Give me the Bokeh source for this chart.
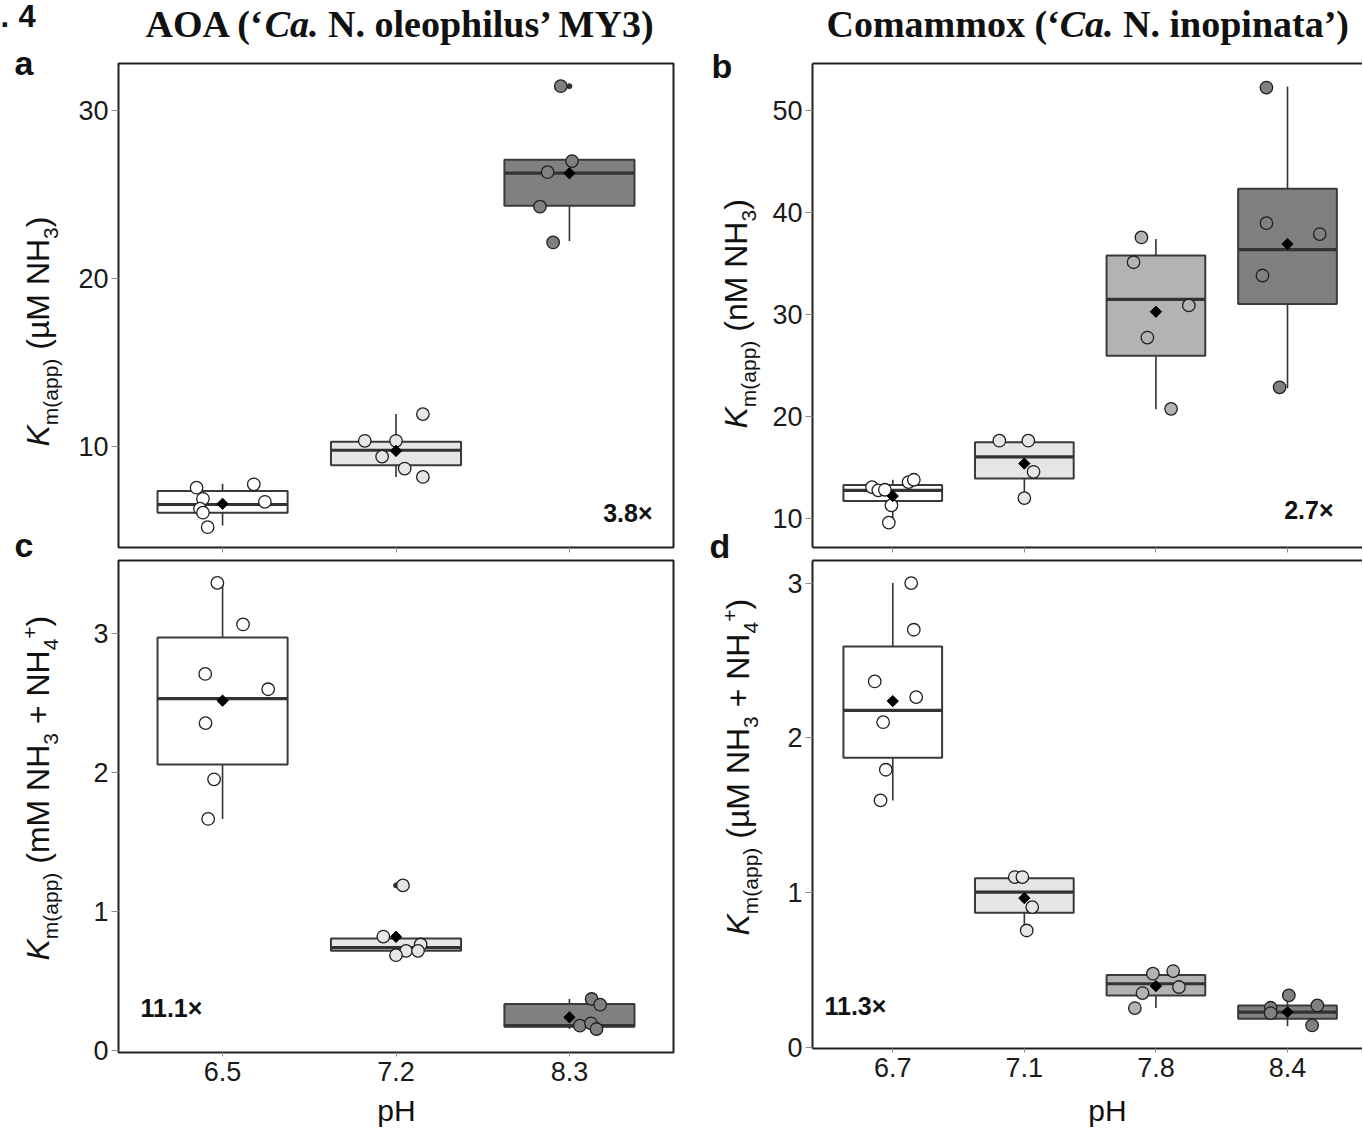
import math
from bokeh.plotting import figure
from bokeh.models import FixedTicker, Label, LinearAxis, Range1d, ColumnDataSource
from bokeh.layouts import column, row
from bokeh.embed import file_html
from bokeh.resources import INLINE

# ---------------- data ----------------
# Panel a: AOA Km(app) (uM NH3)
a_ph = ["6.5", "7.2", "8.3"]
a_q1 = [6.06, 8.88, 24.34]
a_med = [6.55, 9.78, 26.27]
a_q3 = [7.35, 10.28, 27.07]
a_wlo = [5.30, 8.19, 22.23]
a_whi = [7.79, 11.93, 26.99]
a_mean = [6.59, 9.74, 26.27]
a_pt_grp = [0, 0, 0, 0, 0, 0, 0, 1, 1, 1, 1, 1, 1, 2, 2, 2, 2, 2]
a_pt_jit = [-0.15, -0.113, -0.13, -0.113, -0.086, 0.18, 0.244,
            -0.18, 0.0, -0.08, 0.05, 0.155, 0.155,
            -0.05, 0.015, -0.126, -0.17, -0.094]
a_pt_val = [7.55, 6.89, 6.30, 6.06, 5.20, 7.75, 6.71,
            10.34, 10.34, 9.40, 8.69, 8.19, 11.93,
            31.45, 26.99, 26.33, 24.28, 22.15]
a_out_grp = [2]
a_out_val = [31.45]

# Panel b: Comammox Km(app) (nM NH3)
b_ph = ["6.7", "7.1", "7.8", "8.4"]
b_q1 = [11.72, 13.93, 25.95, 31.02]
b_med = [12.76, 16.04, 31.48, 36.35]
b_q3 = [13.28, 17.47, 35.77, 42.33]
b_wlo = [9.60, 12.0, 20.72, 22.77]
b_whi = [13.80, 17.63, 37.39, 52.34]
b_mean = [12.20, 15.39, 30.27, 36.90]
b_pt_grp = [0, 0, 0, 0, 0, 0, 0, 1, 1, 1, 1, 2, 2, 2, 2, 2, 3, 3, 3, 3, 3]
b_pt_jit = [-0.158, -0.11, -0.06, -0.01, -0.03, 0.12, 0.16,
            -0.19, 0.03, 0.07, 0.0,
            -0.11, -0.17, 0.25, -0.065, 0.115,
            -0.16, -0.16, 0.245, -0.19, -0.06]
b_pt_val = [13.08, 12.76, 12.82, 11.29, 9.60, 13.57, 13.80,
            17.63, 17.63, 14.58, 12.0,
            37.55, 35.12, 30.89, 27.74, 20.75,
            52.24, 38.95, 37.88, 33.82, 22.86]
b_out_grp = []
b_out_val = []

# Panel c: AOA Km(app) (mM NH3 + NH4+)
c_ph = ["6.5", "7.2", "8.3"]
c_q1 = [2.058, 0.717, 0.172]
c_med = [2.532, 0.741, 0.179]
c_q3 = [2.972, 0.806, 0.335]
c_wlo = [1.666, 0.686, 0.155]
c_whi = [3.364, 0.820, 0.371]
c_mean = [2.517, 0.818, 0.239]
c_pt_grp = [0, 0, 0, 0, 0, 0, 0, 1, 1, 1, 1, 1, 1, 2, 2, 2, 2, 2]
c_pt_jit = [-0.03, 0.118, -0.10, 0.263, -0.098, -0.049, -0.083,
            0.04, -0.073, 0.142, 0.058, 0.127, 0.0,
            0.128, 0.177, 0.06, 0.124, 0.156]
c_pt_val = [3.364, 3.065, 2.709, 2.599, 2.355, 1.951, 1.666,
            1.188, 0.820, 0.763, 0.717, 0.717, 0.686,
            0.371, 0.330, 0.179, 0.196, 0.155]
c_out_grp = [1]
c_out_val = [1.188]

# Panel d: Comammox Km(app) (uM NH3 + NH4+)
d_ph = ["6.7", "7.1", "7.8", "8.4"]
d_q1 = [1.872, 0.871, 0.338, 0.187]
d_med = [2.178, 1.005, 0.413, 0.230]
d_q3 = [2.591, 1.095, 0.469, 0.273]
d_wlo = [1.597, 0.757, 0.256, 0.138]
d_whi = [3.000, 1.102, 0.495, 0.338]
d_mean = [2.238, 0.966, 0.398, 0.230]
d_pt_grp = [0, 0, 0, 0, 0, 0, 0, 1, 1, 1, 1, 2, 2, 2, 2, 2, 3, 3, 3, 3, 3]
d_pt_jit = [0.14, 0.16, -0.137, 0.178, -0.073, -0.053, -0.093,
            -0.073, -0.015, 0.06, 0.018,
            -0.023, 0.131, 0.175, -0.102, -0.16,
            0.01, -0.128, -0.128, 0.227, 0.187]
d_pt_val = [3.0, 2.699, 2.365, 2.264, 2.102, 1.795, 1.597,
            1.102, 1.102, 0.908, 0.757,
            0.478, 0.495, 0.392, 0.353, 0.256,
            0.338, 0.258, 0.224, 0.273, 0.144]
d_out_grp = []
d_out_val = []

fold_a, fold_b, fold_c, fold_d = "3.8×", "2.7×", "11.1×", "11.3×"
title_aoa = ["AOA (‘", "Ca.", " N. oleophilus’ MY3)"]
title_com = ["Comammox (‘", "Ca.", " N. inopinata’)"]

colors3 = ["#ffffff", "#e6e6e6", "#808080"]
colors4 = ["#ffffff", "#e6e6e6", "#b3b3b3", "#808080"]

# ---------------- styling helpers ----------------
SANS = "Liberation Sans"
SERIF = "Liberation Serif"
FRAME = "#231f20"
BASE_K = 0.38   # renderer's baseline offset, in em
ARIAL = {'K': .667, 'm': .833, '(': .333, 'a': .556, 'p': .556, ')': .333, ' ': .278,
         'µ': .576, 'M': .833, 'N': .722, 'H': .722, '3': .556, '4': .556, '+': .584, 'n': .556}
TIMES_B = {'A': .722, 'O': .778, ' ': .25, '(': .333, '‘': .333, '’': .333, 'N': .722, '.': .25,
           'o': .5, 'l': .278, 'e': .444, 'p': .556, 'h': .556, 'i': .278, 'u': .556, 's': .389,
           'M': .944, 'Y': .722, '3': .5, ')': .333, 'C': .722, 'm': .833, 'a': .5, 'x': .5,
           'n': .556, 't': .333}
TIMES_BI = {'C': .667, 'a': .5, '.': .25, ' ': .25}


def tw(s, size, table):
    return sum(table.get(ch, 0.5) for ch in s) * size


def put(p, frame, px, py, text, size, font, style="normal", vertical=False, align="left",
        color="#111111"):
    """px, py: page position of the text's baseline anchor."""
    fl, fb = frame
    off = BASE_K * size
    if vertical:
        ax, ay, ang = px - off, py, math.pi / 2
    else:
        ax, ay, ang = px, py - off, 0.0
    p.add_layout(Label(x=ax - fl, y=fb - ay, x_units="screen", y_units="screen", text=text,
                       text_font=font, text_font_size=f"{size}px", text_font_style=style,
                       text_color=color, angle=ang, text_align=align,
                       text_baseline="alphabetic"))


def ylabel(p, frame, base_x, start_y, pieces):
    y = start_y
    for text, size, shift, style in pieces:
        lead = len(text) - len(text.lstrip(" "))
        put(p, frame, base_x + shift, y - lead * ARIAL[" "] * size, text.strip(), size, SANS,
            style=style, vertical=True)
        y -= tw(text, size, ARIAL)


def title(p, frame, start_x, base_y, parts, size):
    x = start_x
    for i, t in enumerate(parts):
        style = "bold italic" if i == 1 else "bold"
        table = TIMES_BI if i == 1 else TIMES_B
        lead = len(t) - len(t.lstrip(" "))
        put(p, frame, x + lead * table[" "] * size, base_y, t.strip(), size, SERIF,
            style=style, color="#111111")
        x += tw(t, size, table)


def text_fig(W, H):
    p = figure(width=W, height=H, x_range=Range1d(0, W), y_range=Range1d(0, H),
               output_backend="svg", toolbar_location=None, x_axis_type=None,
               y_axis_type=None, min_border=0, min_border_left=0, min_border_right=0,
               min_border_top=0, min_border_bottom=0)
    p.outline_line_color = None
    p.background_fill_color = "white"
    p.border_fill_color = "white"
    return p


def make_panel(W, H, borders, xr, yr, yticks, labels, colors, q1, med, q3, wlo, whi, mean,
               pg, pj, pv, og, ov, show_x, boxed):
    p = figure(width=W, height=H, x_range=Range1d(*xr), y_range=Range1d(*yr),
               output_backend="svg", toolbar_location=None,
               min_border_left=borders[0], min_border_right=borders[1],
               min_border_top=borders[2], min_border_bottom=borders[3])
    p.xgrid.visible = False
    p.ygrid.visible = False
    p.background_fill_color = "white"
    p.border_fill_color = "white"

    ya = p.yaxis[0]
    ya.ticker = FixedTicker(ticks=yticks, minor_ticks=[])
    ya.major_label_text_font = SANS
    ya.major_label_text_font_size = "27px"
    ya.major_label_text_color = "#1a1a1a"
    ya.major_tick_out = 7
    ya.major_tick_in = 0
    ya.minor_tick_out = 0
    ya.minor_tick_in = 0
    ya.major_tick_line_color = "#8c8c8c"
    ya.major_label_standoff = 3

    n = len(labels)
    xa = p.xaxis[0]
    xa.ticker = FixedTicker(ticks=list(range(n)), minor_ticks=[])
    xa.major_tick_in = 0
    xa.minor_tick_out = 0
    xa.minor_tick_in = 0
    xa.major_tick_line_color = "#8c8c8c"
    xa.major_label_text_font = SANS
    xa.major_label_text_color = "#1a1a1a"
    if show_x:
        xa.major_label_overrides = {i: lab for i, lab in enumerate(labels)}
        xa.major_tick_out = 4
        xa.major_label_text_font_size = "27px"
        xa.major_label_standoff = 5
    else:
        # tick marks only: the shared pH labels sit under the lower panel
        xa.major_label_overrides = {i: "" for i in range(n)}
        xa.major_tick_out = 5
        xa.major_label_text_font_size = "0px"
        xa.major_label_standoff = 0

    if boxed:
        p.outline_line_color = FRAME
        p.outline_line_width = 2
        p.outline_line_alpha = 1.0
        ya.axis_line_color = None
        xa.axis_line_color = None
    else:
        p.outline_line_color = None
        ya.axis_line_color = FRAME
        ya.axis_line_width = 2
        xa.axis_line_color = FRAME
        xa.axis_line_width = 2
        top = LinearAxis(ticker=FixedTicker(ticks=[], minor_ticks=[]),
                         major_label_text_font_size="0px", major_label_standoff=0,
                         major_tick_out=0, major_tick_in=0, minor_tick_out=0,
                         minor_tick_in=0, axis_line_color=FRAME, axis_line_width=2)
        p.add_layout(top, "above")

    xs = list(range(n))
    bw = 0.75
    box = ColumnDataSource(dict(
        x=xs, left=[x - bw / 2 for x in xs], right=[x + bw / 2 for x in xs],
        q1=q1, q3=q3, med=med, wlo=wlo, whi=whi, mean=mean, fill=colors))
    p.segment(x0="x", y0="q3", x1="x", y1="whi", source=box, line_color="#333333",
              line_width=1.6)
    p.segment(x0="x", y0="q1", x1="x", y1="wlo", source=box, line_color="#333333",
              line_width=1.6)
    p.quad(left="left", right="right", bottom="q1", top="q3", source=box,
           fill_color="fill", line_color="#3a3a3a", line_width=2)
    p.segment(x0="left", y0="med", x1="right", y1="med", source=box,
              line_color="#333333", line_width=3.2)

    if og:
        p.scatter(x=og, y=ov, size=5, fill_color="#333333", line_color="#333333")

    pts = ColumnDataSource(dict(
        x=[g + j for g, j in zip(pg, pj)], y=pv, fill=[colors[g] for g in pg]))
    p.scatter(x="x", y="y", source=pts, size=12.5, fill_color="fill",
              line_color="#1f1f1f", line_width=1.3)
    p.scatter(x="x", y="mean", source=box, marker="square", angle=math.pi / 4, size=8,
              fill_color="black", line_color="black")
    return p


# ---------------- geometry (page pixels) ----------------
TOP_H = 48          # title strips          0 -> 48
ROW1_H = 510        # upper panels         48 -> 558
ROW2_H = 535        # lower panels        558 -> 1093
BOT_H = 37          # pH strip           1093 -> 1130
LA_W, AC_W, LB_W, BD_W = 70, 620, 75, 597   # 0-70, 70-690, 690-765, 765-1362
FULL_H = TOP_H + ROW1_H + ROW2_H

pa = make_panel(AC_W, ROW1_H, (48, 17, 15, 11), (-0.6, 2.6), (3.99, 32.8), [10, 20, 30],
                a_ph, colors3, a_q1, a_med, a_q3, a_wlo, a_whi, a_mean,
                a_pt_grp, a_pt_jit, a_pt_val, a_out_grp, a_out_val, False, True)
pb = make_panel(BD_W, ROW1_H, (47, 0, 15, 11), (-0.61, 3.57), (7.16, 54.6),
                [10, 20, 30, 40, 50],
                b_ph, colors4, b_q1, b_med, b_q3, b_wlo, b_whi, b_mean,
                b_pt_grp, b_pt_jit, b_pt_val, b_out_grp, b_out_val, False, False)
pc = make_panel(AC_W, ROW2_H, (48, 17, 2, 41), (-0.6, 2.6), (-0.014, 3.525), [0, 1, 2, 3],
                c_ph, colors3, c_q1, c_med, c_q3, c_wlo, c_whi, c_mean,
                c_pt_grp, c_pt_jit, c_pt_val, c_out_grp, c_out_val, True, True)
pd_ = make_panel(BD_W, ROW2_H, (47, 0, 2, 45), (-0.61, 3.57), (-0.005, 3.146), [0, 1, 2, 3],
                 d_ph, colors4, d_q1, d_med, d_q3, d_wlo, d_whi, d_mean,
                 d_pt_grp, d_pt_jit, d_pt_val, d_out_grp, d_out_val, True, False)

t1 = text_fig(AC_W, TOP_H)
t2 = text_fig(BD_W, TOP_H)
la = text_fig(LA_W, FULL_H)
lb = text_fig(LB_W, FULL_H)
pbot = text_fig(LA_W + AC_W + LB_W + BD_W, BOT_H)

# frames: (left, bottom) in page pixels; the title strips' frames are aligned
# by the column layout with the panel frames below them
FA, FB, FC, FD = (118, 547), (812, 547), (118, 1052), (812, 1048)
FT1 = (118, TOP_H)
FT2 = (812, TOP_H)
FLA = (0, FULL_H)
FLB = (LA_W + AC_W, FULL_H)
FBOT = (0, FULL_H + BOT_H)

# titles and panel letters
title(t1, FT1, 145, 38, title_aoa, 38)
title(t2, FT2, 826, 38, title_com, 38)
put(la, FLA, 0, 27, ".", 31, SANS, style="bold")
put(la, FLA, 18, 27, "4", 31, SANS, style="bold")
put(la, FLA, 14, 75, "a", 34, SANS, style="bold")
put(lb, FLB, 711, 78, "b", 34, SANS, style="bold")
put(la, FLA, 14, 557, "c", 34, SANS, style="bold")
put(lb, FLB, 709, 558, "d", 34, SANS, style="bold")

# fold-change annotations
put(pa, FA, 652, 522, fold_a, 25, SANS, style="bold", align="right")
put(pb, FB, 1333, 519, fold_b, 25, SANS, style="bold", align="right")
put(pc, FC, 140, 1017, fold_c, 25, SANS, style="bold")
put(pd_, FD, 824, 1015, fold_d, 25, SANS, style="bold")

# x axis titles
put(pbot, FBOT, 396, 1121, "pH", 30, SANS, align="center")
put(pbot, FBOT, 1107, 1121, "pH", 30, SANS, align="center")

# y axis titles
SUB = 8
ylabel(la, FLA, 50, 446, [("K", 32, 0, "italic"), ("m(app)", 21, SUB, "normal"),
                          (" (µM NH", 32, 0, "normal"), ("3", 21, SUB, "normal"),
                          (")", 32, 0, "normal")])
ylabel(lb, FLB, 748, 428, [("K", 32, 0, "italic"), ("m(app)", 21, SUB, "normal"),
                           (" (nM NH", 32, 0, "normal"), ("3", 21, SUB, "normal"),
                           (")", 32, 0, "normal")])
ylabel(la, FLA, 50, 960, [("K", 32, 0, "italic"), ("m(app)", 21, SUB, "normal"),
                          (" (mM NH", 32, 0, "normal"), ("3", 21, SUB, "normal"),
                          (" + NH", 32, 0, "normal"), ("4", 21, SUB, "normal"),
                          ("+", 21, -13, "normal"), (")", 32, 0, "normal")])
ylabel(lb, FLB, 750, 935, [("K", 32, 0, "italic"), ("m(app)", 21, SUB, "normal"),
                           (" (µM NH", 32, 0, "normal"), ("3", 21, SUB, "normal"),
                           (" + NH", 32, 0, "normal"), ("4", 21, SUB, "normal"),
                           ("+", 21, -13, "normal"), (")", 32, 0, "normal")])

layout = column(row(la, column(t1, pa, pc), lb, column(t2, pb, pd_)),
                pbot)
open("out.html", "w").write(file_html(layout, INLINE))
